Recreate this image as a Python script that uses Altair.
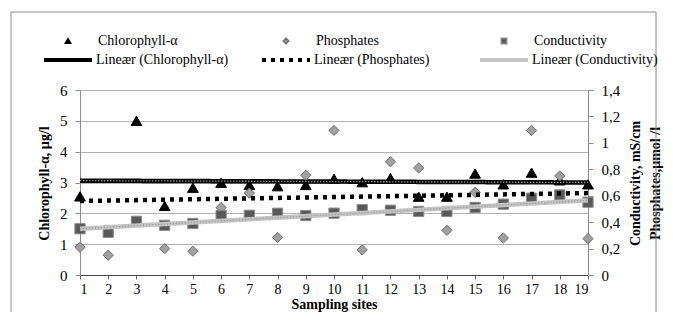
import altair as alt
import pandas as pd

# ---------------- data ----------------
sites = list(range(1, 20))
chlorophyll = [2.55, None, 5.0, 2.24, 2.83, 2.99, 2.92, 2.88, 2.92, 3.12, 3.01, 3.14,
               2.54, 2.54, 3.29, 2.94, 3.32, 3.07, 2.94]
phosphates = [0.21, 0.15, None, 0.20, 0.18, 0.51, 0.62, 0.285, 0.755, 1.094, 0.19, 0.857,
              0.81, 0.338, 0.626, 0.28, 1.094, 0.75, 0.275]
conductivity = [0.35, 0.323, 0.406, 0.376, 0.39, 0.45, 0.452, 0.467, 0.45, 0.468, 0.495,
                0.49, 0.481, 0.481, 0.511, 0.536, 0.581, 0.606, 0.551]

trend_sites = [1, 19]
chl_trend = [3.06, 3.00]
phos_trend = [0.56, 0.62]
cond_trend = [0.35, 0.565]

series_names = ["Chlorophyll-α", "Phosphates", "Conductivity"]
trend_names = ["Lineær (Chlorophyll-α)", "Lineær (Phosphates)", "Lineær (Conductivity)"]
left_ticks = [0, 1, 2, 3, 4, 5, 6]
right_ticks = [0, 0.2, 0.4, 0.6, 0.8, 1.0, 1.2, 1.4]

# ---------------- tables ----------------
rows = []
for name, vals in zip(series_names, [chlorophyll, phosphates, conductivity]):
    for s, v in zip(sites, vals):
        if v is not None:
            rows.append({"site": s, "value": v, "series": name})
pts = pd.DataFrame(rows)

trows = []
for name, vals in zip(trend_names, [chl_trend, phos_trend, cond_trend]):
    for s, v in zip(trend_sites, vals):
        trows.append({"site": s, "value": v, "trend": name})
trd = pd.DataFrame(trows)

FONT = "Liberation Serif"

# ---------------- scales / axes ----------------
x_axis = alt.Axis(values=sites, format="d", tickSize=4, tickColor="#666", domainColor="#444",
                  labelFont=FONT, labelFontSize=14, labelColor="black", labelPadding=3,
                  grid=False, title="Sampling sites", titleFont=FONT, titleFontSize=14,
                  titleFontWeight="bold", titleColor="black", titleY=36, titleBaseline="bottom")
x_enc = alt.X("site:Q", scale=alt.Scale(domain=[1, 19], nice=False, zero=False), axis=x_axis)

left_axis = alt.Axis(orient="left", values=left_ticks, grid=True, gridColor="#b3b3b3",
                     domainColor="#8c8c8c", tickColor="#8c8c8c", tickSize=5,
                     labelFont=FONT, labelFontSize=15, labelColor="black", labelPadding=8,
                     title="Chlorophyll-α, µg/l", titleFont=FONT, titleFontSize=14,
                     titleFontWeight="bold", titleColor="black", titleAngle=270,
                     titleX=-36, titleY=93, titleAlign="center", titleBaseline="middle")
left_scale = alt.Scale(domain=[0, 6], nice=False)

right_axis = alt.Axis(orient="right", values=right_ticks, grid=False,
                      domainColor="#8c8c8c", tickColor="#8c8c8c", tickSize=5,
                      labelFont=FONT, labelFontSize=15, labelColor="black", labelPadding=8,
                      labelExpr="replace(format(datum.value, '.1~f'), '.', ',')",
                      title=["Conductivity, mS/cm", "Phosphates,µmol /l"], titleFont=FONT,
                      titleFontSize=14, titleFontWeight="bold", titleColor="black",
                      titleAngle=270, titleX=40, titleY=93, titleAlign="center",
                      titleBaseline="top", titleLineHeight=20)
right_scale = alt.Scale(domain=[0, 1.4], nice=False)

pt_legend = alt.Legend(orient="none", legendX=-19, legendY=-56, columns=3, gridAlign="all",
                       columnPadding=101, symbolSize=30, labelOffset=23, labelFont=FONT,
                       labelFontSize=14, labelColor="black", title=None, padding=0)
ln_legend = alt.Legend(orient="none", legendX=-38, legendY=-56, columns=3, gridAlign="all",
                       columnPadding=25, symbolType="stroke", symbolSize=2304,
                       symbolStrokeWidth=4, labelOffset=2, labelFont=FONT, labelFontSize=14,
                       labelColor="black", title=None, padding=0)

shape_enc = alt.Shape("series:N", scale=alt.Scale(domain=series_names,
                      range=["triangle-up", "diamond", "square"]), legend=pt_legend)
fill_enc = alt.Fill("series:N", scale=alt.Scale(domain=series_names,
                    range=["#000000", "#a0a0a0", "#595959"]), legend=pt_legend)
stroke_enc = alt.Stroke("series:N", scale=alt.Scale(domain=series_names,
                        range=["#000000", "#6e6e6e", "#8c8c8c"]), legend=pt_legend)

color_enc = alt.Color("trend:N", scale=alt.Scale(domain=trend_names,
                      range=["#000000", "#000000", "#c4c4c4"]), legend=ln_legend)
dash_enc = alt.StrokeDash("trend:N", scale=alt.Scale(domain=trend_names,
                          range=[[1, 0], [4, 5], [1, 0]]), legend=ln_legend)

# ---------------- left group ----------------
frame = alt.Chart(pd.DataFrame({"a": [0]})).mark_rect(
    fillOpacity=0, stroke="#8c8c8c", strokeWidth=1
).encode(x=alt.value(-69), x2=alt.value(576), y=alt.value(-78), y2=alt.value(240))

chl_pts = alt.Chart(pts).transform_filter(
    alt.datum.series == series_names[0]
).mark_point(filled=True, strokeWidth=1, opacity=1, size=115).encode(
    x=x_enc, y=alt.Y("value:Q", scale=left_scale, axis=left_axis),
    shape=shape_enc, fill=fill_enc, stroke=stroke_enc)

chl_line = alt.Chart(trd).transform_filter(
    alt.datum.trend == trend_names[0]
).mark_line(strokeWidth=4.5, strokeCap="butt").encode(
    x=x_enc, y=alt.Y("value:Q", scale=left_scale, axis=left_axis),
    color=color_enc, strokeDash=dash_enc)

chl_tex = alt.Chart(trd).transform_filter(
    alt.datum.trend == trend_names[0]
).mark_line(strokeWidth=1.3, color="#8a8a8a", strokeDash=[1.5, 1.5]).encode(
    x=x_enc, y=alt.Y("value:Q", scale=left_scale, axis=left_axis))

left = alt.layer(frame, chl_pts, chl_line, chl_tex)

# ---------------- right group ----------------
pc_pts = alt.Chart(pts).transform_filter(
    alt.datum.series != series_names[0]
).mark_point(filled=True, strokeWidth=1, opacity=1, size=105).encode(
    x=x_enc, y=alt.Y("value:Q", scale=right_scale, axis=right_axis),
    shape=shape_enc, fill=fill_enc, stroke=stroke_enc)

pc_line = alt.Chart(trd).transform_filter(
    alt.datum.trend != trend_names[0]
).mark_line(strokeWidth=4.5, strokeCap="butt").encode(
    x=x_enc, y=alt.Y("value:Q", scale=right_scale, axis=right_axis),
    color=color_enc, strokeDash=dash_enc)

cond_tex = alt.Chart(trd).transform_filter(
    alt.datum.trend == trend_names[2]
).mark_line(strokeWidth=1.2, color="#8f8f8f", strokeDash=[1, 2]).encode(
    x=x_enc, y=alt.Y("value:Q", scale=right_scale, axis=right_axis))

right = alt.layer(pc_pts, pc_line, cond_tex)

chart = alt.layer(left, right).resolve_scale(y="independent").properties(
    width=508, height=185, autosize="none",
    padding={"left": 72, "top": 82, "right": 77, "bottom": 37},
    background="white"
).configure_view(strokeWidth=0)

chart.save("out.html", embed_options={"renderer": "svg", "actions": False})
